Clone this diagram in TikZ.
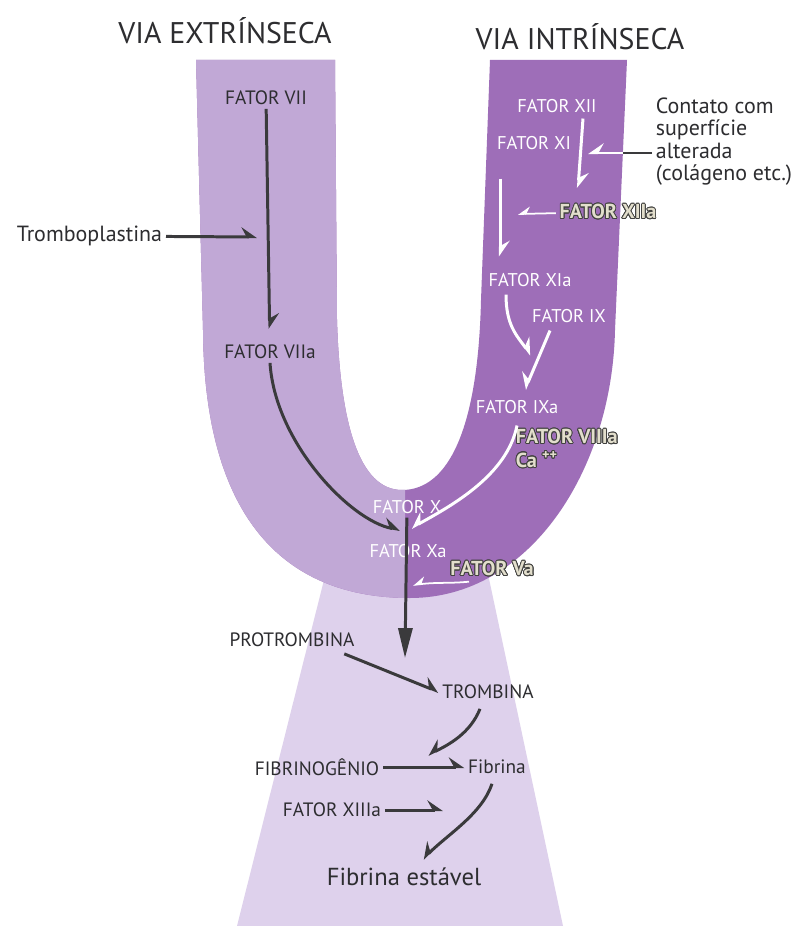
\documentclass[tikz,border=0pt]{standalone}
\usepackage{fontspec}
\setmainfont{PT Sans}
\usepackage{contour}
\usetikzlibrary{arrows.meta,positioning,calc}
\definecolor{uclaro}{RGB}{193,168,214}
\definecolor{uescuro}{RGB}{158,110,184}
\definecolor{haste}{RGB}{222,209,236}
\definecolor{setacinza}{RGB}{58,58,60}
\definecolor{textocinza}{RGB}{45,45,48}
\definecolor{creme}{RGB}{226,222,204}
\definecolor{contorno}{RGB}{66,66,64}
\contourlength{0.5pt}
\newcommand{\borda}[1]{\contour{contorno}{#1}}
% contorno do U (coordenadas em pixels)
\newcommand{\formaU}{(196,60) -- (203,330)
  .. controls (204,500) and (270,598) .. (410,598)
  .. controls (530,598) and (612,470) .. (615,330) -- (627,60)
  -- (490,60) -- (481,300)
  .. controls (478,430) and (448,490) .. (402,490)
  .. controls (358,490) and (340,420) .. (337,320) -- (335,60) -- cycle}
\tikzset{
  titulo/.style={font=\fontsize{17}{20}\selectfont, text=textocinza, inner sep=1pt},
  fator/.style={font=\fontsize{11}{12}\selectfont, text=textocinza, inner sep=2pt},
  fatorbranco/.style={fator, font=\fontsize{10.5}{12}\selectfont, text=white},
  fatorborda/.style={fator, font=\fontsize{11.5}{13}\selectfont\bfseries, text=creme},
  seta/.style={line width=1.7pt, setacinza,
    -{Stealth[harpoon, length=8pt, width=11pt, inset=3pt]}},
  setabranca/.style={seta, white},
  setafina/.style={line width=1pt, white,
    -{Stealth[harpoon, length=6pt, width=8pt, inset=2pt]}},
  trocada/.style={-{Stealth[harpoon, swap, length=8pt, width=11pt, inset=3pt]}},
  trocadafina/.style={-{Stealth[harpoon, swap, length=6pt, width=8pt, inset=2pt]}},
  setaprincipal/.style={line width=1.7pt, setacinza,
    -{Triangle[length=17pt, width=8pt]}}
}
\begin{document}
\begin{tikzpicture}[x=0.02cm, y=-0.02cm]
  \useasboundingbox[fill=white] (0,0) rectangle (803,926);

  % Haste da via comum
  \fill[haste] (329,560) -- (485,560) -- (563,926) -- (237,926) -- cycle;

  % U: metade escura, depois metade clara
  \fill[uescuro] \formaU;
  \begin{scope}
    \clip (0,0) rectangle (405,926);
    \fill[uclaro] \formaU;
  \end{scope}

  % Titulos
  \node[titulo] (tExt) at (225,31) {VIA EXTRÍNSECA};
  \node[titulo] (tInt) at (580,37) {VIA INTRÍNSECA};

  % Via extrinseca
  \node[fator] (f7)  at (266,98)  {FATOR VII};
  \node[fator] (f7a) at (270,352) {FATOR VIIa};
  \node[fator, font=\fontsize{12.5}{14}\selectfont, anchor=east] (trombo) at (166,236) {Tromboplastina};

  % Via intrinseca
  \node[fatorbranco] (f12) at (557,106) {FATOR XII};
  \node[fatorbranco] (f11) at (534,143) {FATOR XI};
  \node[fator, font=\fontsize{12.5}{12.8}\selectfont, align=left, anchor=north west] (contato) at (652,94)
    {Contato com\\superfície\\alterada\\(colágeno etc.)};
  \node[fatorborda] (f12a) at (608,212) {\borda{FATOR XIIa}};
  \node[fatorbranco] (f11a) at (530,280) {FATOR XIa};
  \node[fatorbranco] (f9)   at (569,316) {FATOR IX};
  \node[fatorbranco] (f9a)  at (517,407) {FATOR IXa};
  \node[fatorborda, anchor=west] (f8a) at (512,437) {\borda{FATOR VIIIa}};
  \node[fatorborda, anchor=west] (ca)  at (512,460) {\borda{Ca \textsuperscript{++}}};

  % Via comum
  \node[fatorbranco] (f10)  at (407,507) {FATOR X};
  \node[fatorbranco] (f10a) at (408,551) {FATOR Xa};
  \node[fatorborda]  (f5a)  at (492,569) {\borda{FATOR Va}};
  \node[fator] (protromb) at (292,640) {PROTROMBINA};
  \node[fator] (tromb)    at (488,692) {TROMBINA};
  \node[fator] (fibrinog) at (317,767) {FIBRINOGÊNIO};
  \node[fator] (fibrina)  at (497,767) {Fibrina};
  \node[fator] (f13a)     at (332,810) {FATOR XIIIa};
  \node[fator, font=\fontsize{14}{16}\selectfont] (estavel) at (404,877) {Fibrina estável};

  % Pontos de chegada
  \coordinate (alvo7)   at (257,237);
  \coordinate (alvo12a) at (578,188);
  \coordinate (borda12) at (623,153);
  \coordinate (alvo12)  at (588,153);
  \coordinate (alvo11)  at (518,214);
  \coordinate (alvo9)   at (531,355);
  \coordinate (juncao)  at (406,531);
  \coordinate (alvo10)  at (413,585);
  \coordinate (alvoPT)  at (405,658);
  \coordinate (alvoFib) at (428,755);
  \coordinate (alvo13)  at (443,810);

  % Setas da via extrinseca
  \draw[seta, shorten >=7pt] (f7) -- (f7a);
  \draw[seta] (trombo) -- (alvo7);
  \draw[seta, shorten >=3.5pt] (f7a.south) .. controls +(5,80) and +(-55,-10) .. (juncao);

  % Setas da via intrinseca
  \draw[setabranca] ($(f12.south)+(26,2)$) -- (alvo12a);
  \draw[line width=1.7pt, setacinza] (contato.west |- borda12) -- (borda12);
  \draw[setabranca, line width=1.4pt, trocada] (borda12) -- (alvo12);
  \draw[setabranca] ($(f11.south)+(-34,25)$) -- ($(f11a.north)+(-30,-13)$);
  \draw[setafina, trocadafina] (f12a) -- (alvo11);
  \draw[setabranca] ($(f11a.south)+(-24,4)$) .. controls +(0,30) and +(-15,-20) .. (alvo9);
  \draw[setabranca, trocada] ($(f9.south)+(-19,4)$) -- ($(f9a.north)+(8,-7)$);
  \draw[setabranca, trocada, shorten >=3.5pt] ($(f9a.south)+(0,8)$)
    .. controls +(-10,50) and +(45,-25) .. (juncao);

  % Via comum
  \draw[setafina, trocadafina] ($(f5a.south)+(-23,1)$) .. controls +(-20,2) and +(25,-3) .. (alvo10);
  \draw[setaprincipal] (f10) -- (alvoPT);
  \draw[seta] ($(protromb.south east)+(-14,3)$) -- (tromb.west);
  \draw[seta, trocada] ($(tromb.south)+(-8,6)$) .. controls +(-10,25) and +(20,-10) .. (alvoFib);
  \draw[seta] (fibrinog) -- (fibrina);
  \draw[seta] (f13a) -- (alvo13);
  \draw[seta, trocada] ($(fibrina.south)+(-5,6)$) .. controls +(-10,30) and +(25,-25) .. ($(estavel.north)+(19,-5)$);
\end{tikzpicture}
\end{document}
